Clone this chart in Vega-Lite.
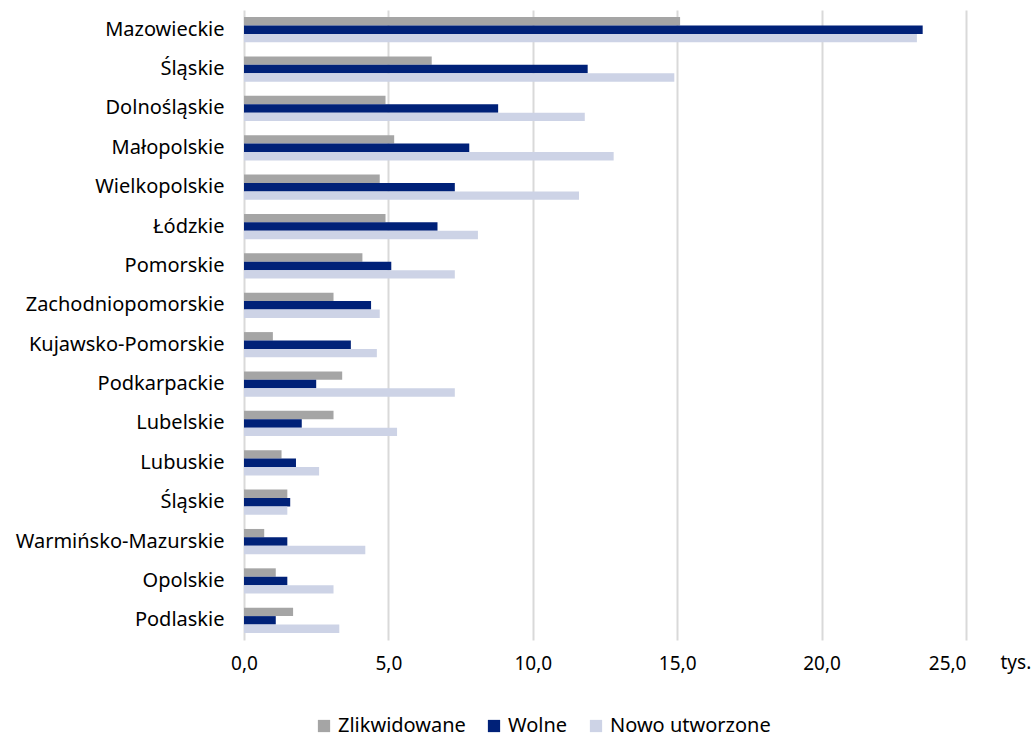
{
  "$schema": "https://vega.github.io/schema/vega-lite/v6.json",
  "width": 722,
  "height": 630,
  "autosize": {"type": "none"},
  "padding": {"left": 244, "top": 10, "right": 69, "bottom": 100},
  "background": "white",
  "config": {
    "font": "Noto Sans",
    "view": {"stroke": null}
  },
  "data": {
    "values": [
      {"key": "Mazowieckie|1", "series": "Zlikwidowane", "value": 15.1},
      {"key": "Mazowieckie|1", "series": "Wolne", "value": 23.5},
      {"key": "Mazowieckie|1", "series": "Nowo utworzone", "value": 23.3},
      {"key": "Śląskie|2", "series": "Zlikwidowane", "value": 6.5},
      {"key": "Śląskie|2", "series": "Wolne", "value": 11.9},
      {"key": "Śląskie|2", "series": "Nowo utworzone", "value": 14.9},
      {"key": "Dolnośląskie|3", "series": "Zlikwidowane", "value": 4.9},
      {"key": "Dolnośląskie|3", "series": "Wolne", "value": 8.8},
      {"key": "Dolnośląskie|3", "series": "Nowo utworzone", "value": 11.8},
      {"key": "Małopolskie|4", "series": "Zlikwidowane", "value": 5.2},
      {"key": "Małopolskie|4", "series": "Wolne", "value": 7.8},
      {"key": "Małopolskie|4", "series": "Nowo utworzone", "value": 12.8},
      {"key": "Wielkopolskie|5", "series": "Zlikwidowane", "value": 4.7},
      {"key": "Wielkopolskie|5", "series": "Wolne", "value": 7.3},
      {"key": "Wielkopolskie|5", "series": "Nowo utworzone", "value": 11.6},
      {"key": "Łódzkie|6", "series": "Zlikwidowane", "value": 4.9},
      {"key": "Łódzkie|6", "series": "Wolne", "value": 6.7},
      {"key": "Łódzkie|6", "series": "Nowo utworzone", "value": 8.1},
      {"key": "Pomorskie|7", "series": "Zlikwidowane", "value": 4.1},
      {"key": "Pomorskie|7", "series": "Wolne", "value": 5.1},
      {"key": "Pomorskie|7", "series": "Nowo utworzone", "value": 7.3},
      {"key": "Zachodniopomorskie|8", "series": "Zlikwidowane", "value": 3.1},
      {"key": "Zachodniopomorskie|8", "series": "Wolne", "value": 4.4},
      {"key": "Zachodniopomorskie|8", "series": "Nowo utworzone", "value": 4.7},
      {"key": "Kujawsko-Pomorskie|9", "series": "Zlikwidowane", "value": 1.0},
      {"key": "Kujawsko-Pomorskie|9", "series": "Wolne", "value": 3.7},
      {"key": "Kujawsko-Pomorskie|9", "series": "Nowo utworzone", "value": 4.6},
      {"key": "Podkarpackie|10", "series": "Zlikwidowane", "value": 3.4},
      {"key": "Podkarpackie|10", "series": "Wolne", "value": 2.5},
      {"key": "Podkarpackie|10", "series": "Nowo utworzone", "value": 7.3},
      {"key": "Lubelskie|11", "series": "Zlikwidowane", "value": 3.1},
      {"key": "Lubelskie|11", "series": "Wolne", "value": 2.0},
      {"key": "Lubelskie|11", "series": "Nowo utworzone", "value": 5.3},
      {"key": "Lubuskie|12", "series": "Zlikwidowane", "value": 1.3},
      {"key": "Lubuskie|12", "series": "Wolne", "value": 1.8},
      {"key": "Lubuskie|12", "series": "Nowo utworzone", "value": 2.6},
      {"key": "Śląskie|13", "series": "Zlikwidowane", "value": 1.5},
      {"key": "Śląskie|13", "series": "Wolne", "value": 1.6},
      {"key": "Śląskie|13", "series": "Nowo utworzone", "value": 1.5},
      {"key": "Warmińsko-Mazurskie|14", "series": "Zlikwidowane", "value": 0.7},
      {"key": "Warmińsko-Mazurskie|14", "series": "Wolne", "value": 1.5},
      {"key": "Warmińsko-Mazurskie|14", "series": "Nowo utworzone", "value": 4.2},
      {"key": "Opolskie|15", "series": "Zlikwidowane", "value": 1.1},
      {"key": "Opolskie|15", "series": "Wolne", "value": 1.5},
      {"key": "Opolskie|15", "series": "Nowo utworzone", "value": 3.1},
      {"key": "Podlaskie|16", "series": "Zlikwidowane", "value": 1.7},
      {"key": "Podlaskie|16", "series": "Wolne", "value": 1.1},
      {"key": "Podlaskie|16", "series": "Nowo utworzone", "value": 3.3}
    ]
  },
  "mark": {"type": "bar"},
  "encoding": {
    "y": {
      "field": "key",
      "type": "nominal",
      "sort": null,
      "scale": {"paddingInner": 0.36, "paddingOuter": 0.18},
      "axis": {
        "title": null,
        "domain": false,
        "ticks": false,
        "labelPadding": 20,
        "labelFontSize": 20,
        "labelLimit": 0,
        "labelColor": "#000000",
        "labelExpr": "split(datum.label, '|')[0]"
      }
    },
    "yOffset": {
      "field": "series",
      "type": "nominal",
      "sort": ["Zlikwidowane", "Wolne", "Nowo utworzone"],
      "scale": {"paddingInner": 0, "paddingOuter": 0}
    },
    "x": {
      "field": "value",
      "type": "quantitative",
      "scale": {"domain": [0, 25], "nice": false},
      "axis": {
        "values": [0, 5, 10, 15, 20, 25],
        "labelExpr": "replace(format(datum.value, '.1f'), '.', ',')",
        "labelAlign": {"expr": "datum.value == 25 ? 'right' : 'center'"},
        "domain": false,
        "ticks": false,
        "grid": true,
        "gridColor": "#d9d9d9",
        "gridWidth": 2,
        "labelFontSize": 19,
        "labelColor": "#000000",
        "labelPadding": 14,
        "title": "tys.",
        "titleFontSize": 19,
        "titleFontWeight": "normal",
        "titleColor": "#000000",
        "titleX": 756,
        "titleY": 22,
        "titleAlign": "left",
        "titleBaseline": "middle"
      }
    },
    "color": {
      "field": "series",
      "type": "nominal",
      "sort": ["Zlikwidowane", "Wolne", "Nowo utworzone"],
      "scale": {
        "domain": ["Zlikwidowane", "Wolne", "Nowo utworzone"],
        "range": ["#a5a5a5", "#002178", "#cdd3e6"]
      },
      "legend": {
        "title": null,
        "orient": "none",
        "direction": "horizontal",
        "legendX": 70,
        "legendY": 706,
        "symbolType": "square",
        "symbolSize": 150,
        "symbolStrokeWidth": 0,
        "labelFontSize": 20,
        "labelLimit": 0,
        "labelColor": "#000000",
        "labelOffset": 4,
        "columnPadding": 18
      }
    }
  }
}
